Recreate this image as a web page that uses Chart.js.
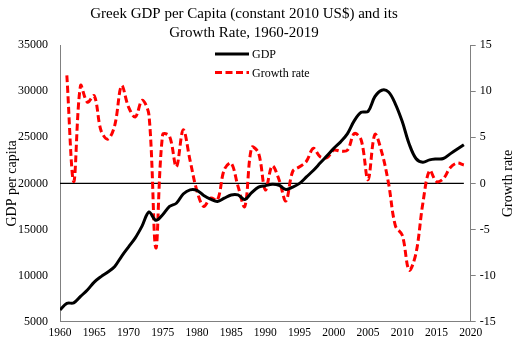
<!DOCTYPE html>
<html>
<head>
<meta charset="utf-8">
<script src="https://cdn.jsdelivr.net/npm/chart.js@4.4.1/dist/chart.umd.min.js"></script>
<style>
  html, body { margin: 0; padding: 0; background: #fff; }
  #wrap { width: 520px; height: 341px; }
</style>
</head>
<body>
<div id="wrap"><canvas id="gdpChart" width="520" height="341"></canvas></div>
<script>
// Greek GDP per capita (constant 2010 US$) and growth rate

const chartTitle = ['Greek GDP per Capita (constant 2010 US$) and its', 'Growth Rate, 1960-2019'];

const years = [
    1960, 1961, 1962, 1963, 1964, 1965, 1966, 1967, 1968, 1969,
    1970, 1971, 1972, 1973, 1974, 1975, 1976, 1977, 1978, 1979,
    1980, 1981, 1982, 1983, 1984, 1985, 1986, 1987, 1988, 1989,
    1990, 1991, 1992, 1993, 1994, 1995, 1996, 1997, 1998, 1999,
    2000, 2001, 2002, 2003, 2004, 2005, 2006, 2007, 2008, 2009,
    2010, 2011, 2012, 2013, 2014, 2015, 2016, 2017, 2018, 2019
];

const gdpPerCapita = [
    6300, 7000, 7050, 7750, 8450, 9300, 9900, 10400, 11000, 12100,
    13100, 14100, 15400, 16900, 16000, 16600, 17500, 17850, 18850, 19300,
    19250, 18700, 18300, 18050, 18400, 18750, 18750, 18250, 19000, 19600,
    19750, 19900, 19800, 19350, 19600, 20000, 20700, 21400, 22200, 23000,
    23800, 24500, 25400, 26800, 27700, 27800, 29400, 30100, 29900, 28600,
    26700, 24300, 22700, 22300, 22550, 22650, 22700, 23200, 23700, 24200
];

const growthRate = [
    null, 11.7, 0.2, 10.6, 8.8, 9.5, 5.7, 4.8, 6.3, 10.6,
    8.3, 7.2, 9.0, 7.4, -7.0, 5.3, 5.1, 1.8, 5.8, 2.5,
    -0.8, -2.5, -1.6, -1.8, 1.5, 2.2, -0.3, -2.5, 3.9, 3.3,
    -0.7, 1.9, 0.4, -1.9, 1.3, 1.8, 2.4, 3.8, 2.9, 2.8,
    3.6, 3.5, 3.6, 5.4, 4.7, 0.4, 5.3, 3.4, 0.0, -4.6,
    -5.6, -9.4, -7.6, -2.2, 1.4, 0.2, 0.5, 1.7, 2.2, 2.0
];

const yearTicks = [1960, 1965, 1970, 1975, 1980, 1985, 1990, 1995, 2000, 2005, 2010, 2015, 2020];
const gdpTicks = [5000, 10000, 15000, 20000, 25000, 30000, 35000];
const growthTicks = [-15, -10, -5, 0, 5, 10, 15];

const serif = '"Liberation Serif", "DejaVu Serif", serif';
const axisGrey = '#808080';

// title, legend, axis titles and the zero line
const extras = {
    id: 'extras',
    beforeDatasetsDraw(chart) {
        const { ctx, scales } = chart;
        const y0 = scales.y1.getPixelForValue(0);
        ctx.save();
        ctx.strokeStyle = '#000';
        ctx.lineWidth = 1.2;
        ctx.beginPath();
        ctx.moveTo(scales.x.getPixelForValue(years[0]), y0);
        ctx.lineTo(scales.x.getPixelForValue(years[years.length - 1]), y0);
        ctx.stroke();
        ctx.restore();
    },
    afterDraw(chart) {
        const { ctx, chartArea } = chart;
        ctx.save();
        ctx.fillStyle = '#000';

        // title
        ctx.font = '15px ' + serif;
        ctx.textAlign = 'center';
        ctx.textBaseline = 'alphabetic';
        ctx.fillText(chartTitle[0], 244, 18);
        ctx.fillText(chartTitle[1], 244, 37);

        // legend
        ctx.font = '12px ' + serif;
        ctx.textAlign = 'left';
        ctx.textBaseline = 'middle';
        chart.data.datasets.forEach((ds, i) => {
            const ly = 54 + i * 18.5;
            ctx.strokeStyle = ds.borderColor;
            ctx.lineWidth = ds.borderWidth;
            ctx.setLineDash(ds.borderDash || []);
            ctx.beginPath();
            ctx.moveTo(215, ly);
            ctx.lineTo(249, ly);
            ctx.stroke();
            ctx.setLineDash([]);
            ctx.fillText(ds.label, 252, ly + 1);
        });

        // axis titles
        const midY = (chartArea.top + chartArea.bottom) / 2;
        ctx.font = '14px ' + serif;
        ctx.textAlign = 'center';
        ctx.translate(12, midY);
        ctx.rotate(-Math.PI / 2);
        ctx.fillText('GDP per capita', 0, 0);
        ctx.setTransform(1, 0, 0, 1, 0, 0);
        ctx.translate(508, midY);
        ctx.rotate(-Math.PI / 2);
        ctx.fillText('Growth rate', 0, 0);
        ctx.restore();
    }
};

function renderChart() {
    const ctx = document.getElementById('gdpChart').getContext('2d');
    new Chart(ctx, {
        type: 'line',
        data: {
            datasets: [
                {
                    label: 'GDP',
                    data: years.map((yr, i) => ({ x: yr, y: gdpPerCapita[i] })),
                    yAxisID: 'y',
                    borderColor: '#000000',
                    borderWidth: 3,
                    pointRadius: 0,
                    tension: 0.35,
                    fill: false
                },
                {
                    label: 'Growth rate',
                    data: years.map((yr, i) => ({ x: yr, y: growthRate[i] })),
                    yAxisID: 'y1',
                    borderColor: '#ff0000',
                    borderWidth: 3,
                    borderDash: [7, 3.5],
                    pointRadius: 0,
                    tension: 0.35,
                    fill: false
                }
            ]
        },
        options: {
            responsive: false,
            animation: false,
            layout: { padding: { top: 45, left: 0, right: 0, bottom: 0 } },
            plugins: {
                legend: { display: false },
                title: { display: false },
                tooltip: { enabled: false }
            },
            scales: {
                x: {
                    type: 'linear',
                    min: 1960,
                    max: 2020,
                    afterBuildTicks: s => { s.ticks = yearTicks.map(v => ({ value: v })); },
                    afterFit: s => { s.height = 19; },
                    grid: { display: false, drawTicks: false, tickLength: 0 },
                    border: { display: true, color: axisGrey, width: 1 },
                    ticks: {
                        color: '#000',
                        padding: 4,
                        maxRotation: 0,
                        font: { family: serif, size: 11.5 },
                        callback: v => String(v)
                    }
                },
                y: {
                    position: 'left',
                    min: 5000,
                    max: 35000,
                    afterBuildTicks: s => { s.ticks = gdpTicks.map(v => ({ value: v })); },
                    afterFit: s => { s.width = 60; },
                    grid: { display: false, drawTicks: false, tickLength: 0 },
                    border: { display: true, color: axisGrey, width: 1 },
                    ticks: {
                        color: '#000',
                        padding: 12,
                        font: { family: serif, size: 12 },
                        callback: v => String(v)
                    }
                },
                y1: {
                    position: 'right',
                    min: -15,
                    max: 15,
                    afterBuildTicks: s => { s.ticks = growthTicks.map(v => ({ value: v })); },
                    afterFit: s => { s.width = 49.3; },
                    grid: { display: true, drawOnChartArea: false, drawTicks: true, tickLength: 5, color: axisGrey },
                    border: { display: true, color: axisGrey, width: 1 },
                    ticks: {
                        color: '#000',
                        padding: 4,
                        font: { family: serif, size: 12 },
                        callback: v => String(v)
                    }
                }
            }
        },
        plugins: [extras]
    });
}

document.addEventListener('DOMContentLoaded', renderChart);
</script>
</body>
</html>
